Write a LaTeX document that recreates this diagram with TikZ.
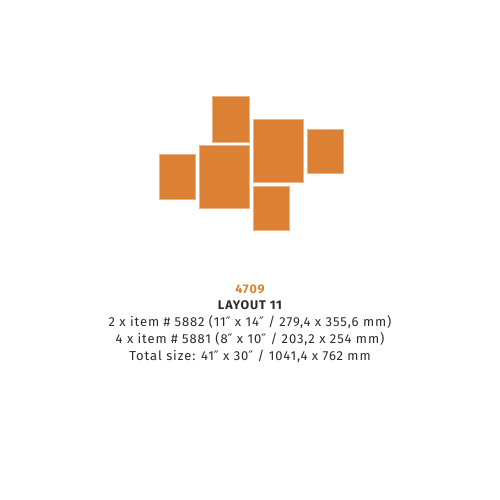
\documentclass[tikz,border=0pt]{standalone}
\usepackage{fontspec}
\setmainfont{Fira Sans}[LetterSpace=7]
\newfontfamily\primefont{DejaVu Sans}
\newcommand{\inch}{{\primefont ″}}
\definecolor{frameorange}{HTML}{DC8033}
\definecolor{textgray}{HTML}{2B2B2B}
\tikzset{
  frame/.style={fill=frameorange, draw=frameorange!60, line width=0.4pt},
  infoline/.style={anchor=base, text=textgray, font=\fontsize{13}{15}\selectfont, inner sep=0pt}
}
\begin{document}
\begin{tikzpicture}[x=1pt, y=-1pt]
    \useasboundingbox (0,0) rectangle (500,500);
    \draw [frame] (212.3,96.7) rectangle (248.7,141.7);
    \draw [frame] (159,154.3) rectangle (195,198.7);
    \draw [frame] (199.3,145.3) rectangle (249,207.7);
    \draw [frame] (253,119.3) rectangle (302.7,181.7);
    \draw [frame] (306.7,129.3) rectangle (342.7,173.3);
    \draw [frame] (253,185.7) rectangle (289,230.3);

    \node [infoline, text=frameorange, font=\fontsize{12.5}{14}\selectfont\bfseries] (code) at (250,293) {4709};
    \node [infoline, font=\fontsize{12.5}{14}\selectfont\bfseries] (layout) at (250,309.5) {LAYOUT 11};
    \node [infoline] (bigitem) at (250,326.5) {2 x item \# 5882 (11\inch{} x 14\inch{} / 279,4 x 355,6 mm)};
    \node [infoline] (smallitem) at (250,343.3) {4 x item \# 5881 (8\inch{} x 10\inch{} / 203,2 x 254 mm)};
    \node [infoline] (total) at (250,360) {Total size: 41\inch{} x 30\inch{} / 1041,4 x 762 mm};
\end{tikzpicture}
\end{document}
